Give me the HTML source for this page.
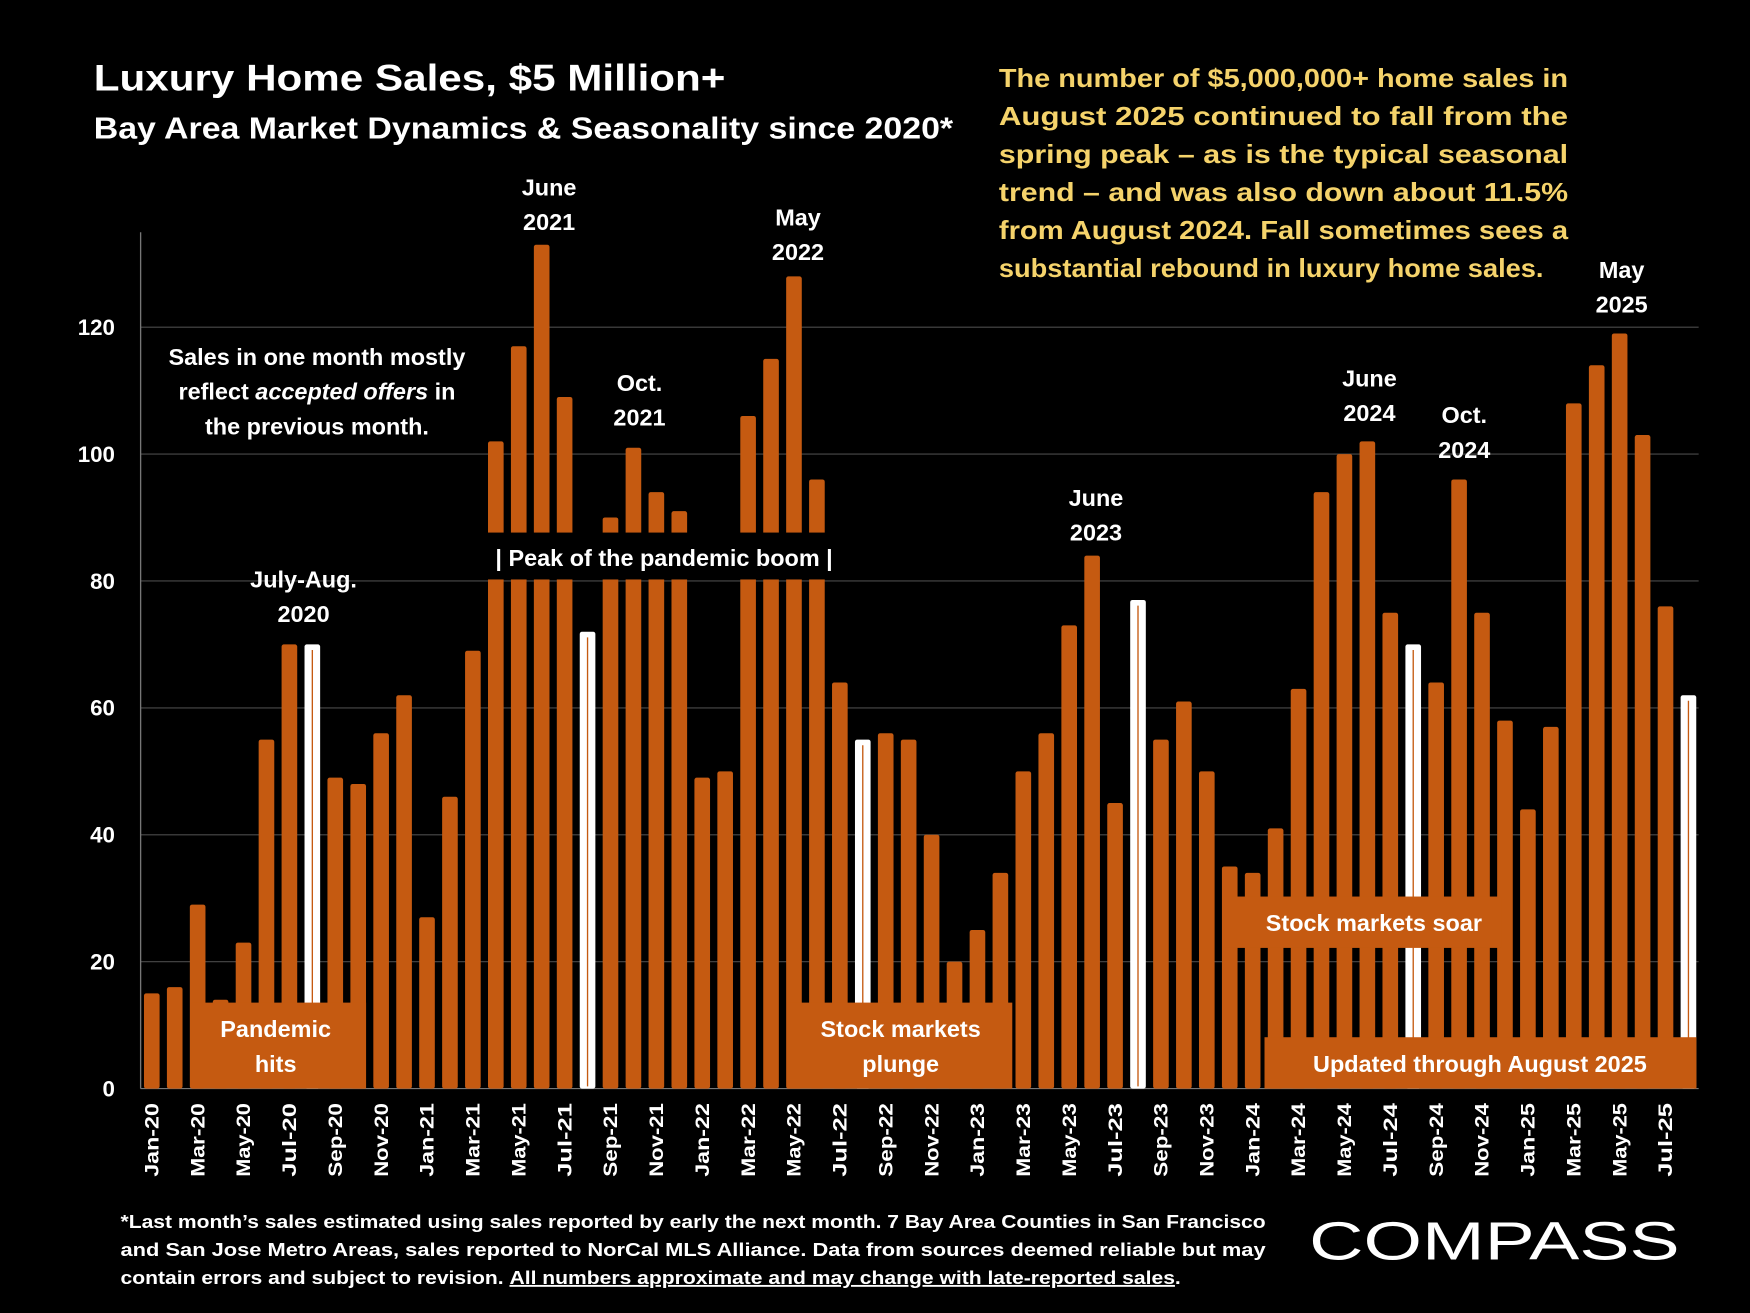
<!DOCTYPE html>
<html><head><meta charset="utf-8">
<style>
html,body{margin:0;padding:0;background:#000;}
svg{display:block;}
text{font-family:"Liberation Sans",sans-serif;font-weight:bold;}
</style></head>
<body>
<svg id="chart" width="1750" height="1313" viewBox="0 0 1568 1176" preserveAspectRatio="none" xmlns="http://www.w3.org/2000/svg">
<rect x="0" y="0" width="1568" height="1176" fill="#000"/>
<text x="84" y="81" font-size="33" fill="#fff" textLength="566" lengthAdjust="spacingAndGlyphs">Luxury Home Sales, $5 Million+</text>
<text x="84" y="124" font-size="27" fill="#fff" textLength="770" lengthAdjust="spacingAndGlyphs">Bay Area Market Dynamics &amp; Seasonality since 2020*</text>
<g id="grid"></g>
<g id="bars"></g>
<g id="overlays"></g>
<g id="yticks"></g>
<g id="xticks"></g>
<g id="note" fill="#F5D36B" font-size="23"></g>
<g fill="#fff" font-size="16.5">
<text x="108" y="1100" textLength="1026" lengthAdjust="spacingAndGlyphs">*Last month’s sales estimated using sales reported by early the next month. 7 Bay Area Counties in San Francisco</text>
<text x="108" y="1125" textLength="1026" lengthAdjust="spacingAndGlyphs">and San Jose Metro Areas, sales reported to NorCal MLS Alliance.  Data from sources deemed reliable but may</text>
<text x="108" y="1150" textLength="950" lengthAdjust="spacingAndGlyphs">contain errors and subject to revision. <tspan text-decoration="underline">All numbers approximate and may change with late-reported sales</tspan>.</text>
</g>
<text x="1173" y="1128" font-size="48" fill="#fff" style="font-weight:normal" textLength="332" lengthAdjust="spacingAndGlyphs">COMPASS</text>
</svg>
<script>
const months = ["Jan-20","Feb-20","Mar-20","Apr-20","May-20","Jun-20","Jul-20","Aug-20","Sep-20","Oct-20","Nov-20","Dec-20",
"Jan-21","Feb-21","Mar-21","Apr-21","May-21","Jun-21","Jul-21","Aug-21","Sep-21","Oct-21","Nov-21","Dec-21",
"Jan-22","Feb-22","Mar-22","Apr-22","May-22","Jun-22","Jul-22","Aug-22","Sep-22","Oct-22","Nov-22","Dec-22",
"Jan-23","Feb-23","Mar-23","Apr-23","May-23","Jun-23","Jul-23","Aug-23","Sep-23","Oct-23","Nov-23","Dec-23",
"Jan-24","Feb-24","Mar-24","Apr-24","May-24","Jun-24","Jul-24","Aug-24","Sep-24","Oct-24","Nov-24","Dec-24",
"Jan-25","Feb-25","Mar-25","Apr-25","May-25","Jun-25","Jul-25","Aug-25"];
const sales = [15,16,29,14,23,55,70,70,49,48,56,62,
27,46,69,102,117,133,109,72,90,101,94,91,
49,50,106,115,128,96,64,55,56,55,40,20,
25,34,50,56,73,84,45,77,55,61,50,35,
34,41,63,94,100,102,75,70,64,96,75,58,
44,57,108,114,119,103,76,62];
const highlightMonths = ["Aug-20","Aug-21","Aug-22","Aug-23","Aug-24","Aug-25"];
const yTicks = [0,20,40,60,80,100,120];

const NS="http://www.w3.org/2000/svg";
const X0=136, DX=20.55, Y0=975, PY=5.683, BW=14;
function xScale(i){return X0+i*DX;}
function yScale(v){return Y0-v*PY;}
function mk(tag,attrs,parent){const e=document.createElementNS(NS,tag);for(const k in attrs)e.setAttribute(k,attrs[k]);parent.appendChild(e);return e;}

const grid=document.getElementById('grid');
yTicks.forEach(t=>{
  if(t>0){const l=mk('line',{x1:126,x2:1522,y1:yScale(t),y2:yScale(t),stroke:'#4a4a4a','stroke-width':1},grid);
  
  }
});
const ax=mk('line',{x1:126,x2:126,y1:208,y2:975,stroke:'#777','stroke-width':1.2},grid);


const bx=mk('line',{x1:126,x2:1522,y1:975,y2:975,stroke:'#777','stroke-width':1},grid);



const yt=document.getElementById('yticks');
yTicks.forEach(t=>{
  const e=mk('text',{x:103,y:yScale(t)+7,'font-size':20,fill:'#fff','text-anchor':'end'},yt);
  e.textContent=t;
  
  
});

const bars=document.getElementById('bars');
sales.forEach((v,i)=>{
  const cx=xScale(i), top=yScale(v);
  const hl=highlightMonths.includes(months[i]);
  const r=mk('rect',{x:cx-BW/2,y:top,width:BW,height:Y0-top,rx:2,fill:hl?'#fff':'#C55A11'},bars);
  
  
  if(hl){const l=mk('line',{x1:cx,x2:cx,y1:top+5,y2:Y0-2,stroke:'#C55A11','stroke-width':1.2},bars);
    
    }
});

const xt=document.getElementById('xticks');
months.forEach((m,i)=>{
  if(i%2)return;
  const cx=xScale(i)+6;
  const e=mk('text',{x:0,y:0,'font-size':17,fill:'#fff','text-anchor':'end',transform:`translate(${cx},988) rotate(-90)`,textLength:m.length>5?66:62,lengthAdjust:'spacingAndGlyphs'},xt);
  e.textContent=m;
  
  
});

const ov=document.getElementById('overlays');
function box(x,y,w,h,fill,name){const r=mk('rect',{x:x,y:y,width:w,height:h,fill:fill},ov);
  
  }
function label(lines,cx,ys,size,fill,name){lines.forEach((s,k)=>{const e=mk('text',{x:cx,y:ys[k],'font-size':size,fill:fill,'text-anchor':'middle'},ov);
  e.innerHTML=s;
  
  });}
box(425,477,345,42,'#000','peak-band');
label(['| Peak of the pandemic boom |'],595,[507],21,'#fff','peak-label');
box(172,898,156,77,'#C55A11','pandemic-box');
label(['Pandemic','hits'],247,[929,960],21,'#fff','pandemic-label');
box(705,898,202,77,'#C55A11','plunge-box');
label(['Stock markets','plunge'],807,[929,960],21,'#fff','plunge-label');
box(1097,803,248,46,'#C55A11','soar-box');
label(['Stock markets  soar'],1231,[834],21,'#fff','soar-label');
box(1133,929,387,46,'#C55A11','updated-box');
label(['Updated through August 2025'],1326,[960],21,'#fff','updated-label');
label(['June','2021'],492,[175,206],21,'#fff','label-june-2021');
label(['May','2022'],715,[202,233],21,'#fff','label-may-2022');
label(['Oct.','2021'],573,[350,381],21,'#fff','label-oct-2021');
label(['July-Aug.','2020'],272,[526,557],21,'#fff','label-jul-aug-2020');
label(['June','2023'],982,[453,484],21,'#fff','label-june-2023');
label(['June','2024'],1227,[346,377],21,'#fff','label-june-2024');
label(['Oct.','2024'],1312,[379,410],21,'#fff','label-oct-2024');
label(['May','2025'],1453,[249,280],21,'#fff','label-may-2025');
label(['Sales in one month mostly','reflect <tspan font-style="italic">accepted offers</tspan> in','the previous month.'],284,[327,358,389],21,'#fff','sales-note');

const note=document.getElementById('note');
const noteLines=["The number of $5,000,000+ home sales in","August 2025 continued to fall from the","spring peak – as is the typical seasonal","trend – and was also down about 11.5%","from August 2024. Fall sometimes sees a","substantial rebound in luxury home sales."];
noteLines.forEach((s,k)=>{
  const last=k===noteLines.length-1;
  const e=mk('text',{x:895,y:78+k*34,textLength:last?488:510,lengthAdjust:'spacingAndGlyphs'},note);
  e.textContent=s;
  
  
});
</script>
</body></html>
